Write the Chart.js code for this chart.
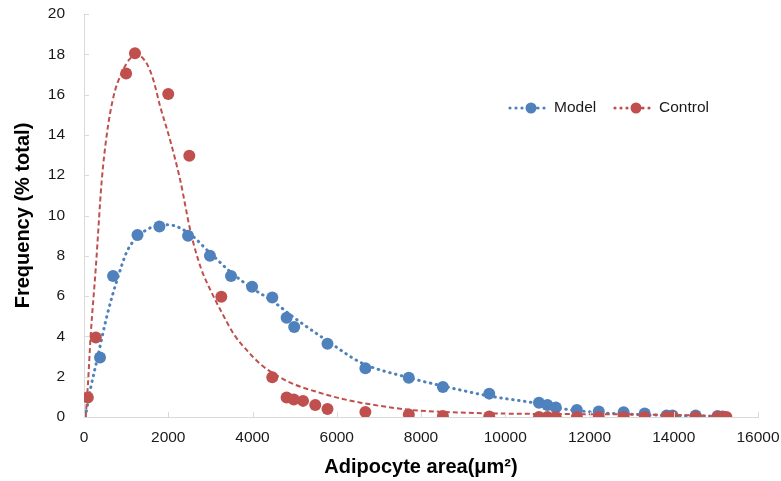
<!DOCTYPE html>
<html>
<head>
<meta charset="utf-8">
<script src="https://cdn.jsdelivr.net/npm/chart.js@4.4.1/dist/chart.umd.min.js"></script>
<style>
  html, body { margin: 0; padding: 0; background: #ffffff; }
  #wrap { width: 781px; height: 481px; position: relative; }
</style>
</head>
<body>
<div id="wrap"><canvas id="c" width="781" height="481"></canvas></div>
<script>
// ---- data ----
const modelX = [380, 690, 1270, 1790, 2470, 2990, 3490, 3990, 4470, 4810, 4990, 5780, 6680, 7710, 8520, 9620, 10800, 11000, 11200, 11700, 12220, 12810, 13310, 13830, 13970, 14520, 15040, 15160];
const modelY = [2.95, 7.0, 9.03, 9.45, 9.0, 8.0, 7.0, 6.46, 5.93, 4.93, 4.47, 3.64, 2.42, 1.95, 1.49, 1.16, 0.71, 0.6, 0.47, 0.35, 0.27, 0.23, 0.17, 0.08, 0.07, 0.07, 0.05, 0.03];

const controlX = [90, 280, 1000, 1210, 2000, 2500, 3260, 4470, 4810, 4980, 5200, 5490, 5780, 6680, 7710, 8520, 9620, 10800, 11000, 11200, 11700, 12220, 12810, 13310, 13830, 13970, 14520, 15040, 15120, 15250];
const controlY = [0.97, 3.95, 17.05, 18.05, 16.03, 12.97, 5.97, 1.97, 0.97, 0.87, 0.8, 0.6, 0.4, 0.25, 0.13, 0.05, 0.02, 0.0, 0.0, 0.0, 0.0, 0.0, 0.0, 0.0, 0.0, 0.0, 0.0, 0.0, 0.0, 0.0];

// trend curves
const modelTrendX = [30, 160, 317, 554, 800, 1028, 1343, 1650, 1990, 2464, 2986, 3493, 3990, 4472, 4986, 5775, 6576, 7711, 8517, 9621, 10660, 11460, 12300, 13500, 14660, 15250];
const modelTrendY = [0.0, 1.46, 2.9, 5.1, 6.9, 8.25, 9.07, 9.45, 9.54, 9.16, 8.16, 7.17, 6.39, 5.76, 4.93, 3.78, 2.70, 1.95, 1.54, 1.04, 0.71, 0.38, 0.21, 0.10, 0.05, 0.03];

const controlTrendX = [40, 90, 160, 280, 420, 540, 700, 900, 1100, 1280, 1500, 1650, 1810, 2050, 2290, 2530, 2770, 3010, 3250, 3560, 3880, 4190, 4590, 4990, 5460, 6010, 6570, 7760, 8580, 9690, 10900, 12000, 13000, 14000, 14800, 15250];
const controlTrendY = [0, 1.5, 4.1, 7.4, 11.7, 14.0, 15.9, 17.1, 17.8, 17.95, 17.5, 16.7, 15.4, 13.7, 11.7, 9.2, 7.42, 6.26, 5.27, 4.1, 3.28, 2.62, 2.04, 1.62, 1.29, 0.96, 0.71, 0.35, 0.25, 0.18, 0.15, 0.14, 0.13, 0.1, 0.06, 0.03];

const seriesNames = ['Model', 'Control'];
const xTitle = 'Adipocyte area(\u03bcm\u00b2)';
const yTitle = 'Frequency (% total)';

const BLUE = '#4F81BD';
const RED = '#C0504D';

const pts = (xs, ys) => xs.map((x, i) => ({ x: x, y: ys[i] }));

const inwardTicks = {
  id: 'inwardTicks',
  afterDraw(chart) {
    const ctx = chart.ctx;
    const xs = chart.scales.x, ys = chart.scales.y;
    ctx.save();
    ctx.strokeStyle = '#d9d9d9';
    ctx.lineWidth = 1;
    ctx.beginPath();
    for (let v = 0; v <= 16000; v += 2000) {
      const px = Math.round(xs.getPixelForValue(v)) + 0.5;
      ctx.moveTo(px, ys.bottom);
      ctx.lineTo(px, ys.bottom - 5);
    }
    for (let v = 0; v <= 20; v += 2) {
      const py = Math.round(ys.getPixelForValue(v)) + 0.5;
      ctx.moveTo(xs.left, py);
      ctx.lineTo(xs.left + 5, py);
    }
    ctx.stroke();
    ctx.restore();
  }
};

const customLegend = {
  id: 'customLegend',
  afterDraw(chart) {
    const ctx = chart.ctx;
    const items = [
      { name: seriesNames[0], color: BLUE, x0: 510 },
      { name: seriesNames[1], color: RED, x0: 615 }
    ];
    const y = 108;
    ctx.save();
    items.forEach(it => {
      ctx.fillStyle = it.color;
      [0, 6, 12, 28, 34].forEach(dx => {
        ctx.beginPath();
        ctx.arc(it.x0 + dx, y, 1.6, 0, Math.PI * 2);
        ctx.fill();
      });
      ctx.beginPath();
      ctx.arc(it.x0 + 21, y, 5.5, 0, Math.PI * 2);
      ctx.fill();
      ctx.strokeStyle = it.color;
      ctx.lineWidth = 2;
      ctx.beginPath();
      ctx.moveTo(it.x0 + 21, y);
      ctx.lineTo(it.x0 + 29, y);
      ctx.stroke();
      ctx.fillStyle = '#1a1a1a';
      ctx.font = '15.5px "Liberation Sans", Arial, sans-serif';
      ctx.textBaseline = 'middle';
      ctx.textAlign = 'left';
      ctx.fillText(it.name, it.x0 + 44, y);
    });
    ctx.restore();
  }
};

new Chart(document.getElementById('c'), {
  type: 'scatter',
  data: {
    datasets: [
      {
        label: seriesNames[1],
        data: pts(controlX, controlY),
        backgroundColor: RED,
        borderColor: RED,
        pointRadius: 6,
        pointBorderWidth: 0,
        showLine: false
      },
      {
        label: seriesNames[0],
        data: pts(modelX, modelY),
        backgroundColor: BLUE,
        borderColor: BLUE,
        pointRadius: 6,
        pointBorderWidth: 0,
        showLine: false
      },
      {
        label: 'Control trend',
        data: pts(controlTrendX, controlTrendY),
        showLine: true,
        borderColor: RED,
        borderWidth: 2,
        borderDash: [5, 3],
        pointRadius: 0,
        cubicInterpolationMode: 'monotone',
        fill: false
      },
      {
        label: 'Model trend',
        data: pts(modelTrendX, modelTrendY),
        showLine: true,
        borderColor: BLUE,
        borderWidth: 3,
        borderDash: [0.5, 5.5],
        borderCapStyle: 'round',
        pointRadius: 0,
        cubicInterpolationMode: 'monotone',
        fill: false
      }
    ]
  },
  options: {
    responsive: false,
    animation: false,
    events: [],
    layout: { padding: { top: 14, right: 23, left: 0, bottom: 0 } },
    plugins: {
      legend: { display: false },
      tooltip: { enabled: false }
    },
    scales: {
      x: {
        type: 'linear',
        min: 0, max: 16000,
        afterFit: s => { s.height = 64; s.paddingLeft = 0; s.paddingRight = 0; },
        grid: { display: false, drawTicks: false },
        border: { display: true, color: '#d9d9d9', width: 1 },
        ticks: {
          stepSize: 2000,
          padding: 11,
          color: '#1a1a1a',
          font: { family: '"Liberation Sans", Arial, sans-serif', size: 15.5 },
          callback: v => String(v)
        },
        title: {
          display: true,
          text: xTitle,
          color: '#000000',
          font: { family: '"Liberation Sans", Arial, sans-serif', size: 20, weight: 'bold' },
          padding: { top: 0, bottom: 2 }
        }
      },
      y: {
        type: 'linear',
        min: 0, max: 20,
        afterFit: s => { s.width = 84; s.paddingTop = 0; s.paddingBottom = 0; },
        grid: { display: false, drawTicks: false },
        border: { display: true, color: '#d9d9d9', width: 1 },
        ticks: {
          stepSize: 2,
          padding: 19,
          color: '#1a1a1a',
          font: { family: '"Liberation Sans", Arial, sans-serif', size: 15.5 }
        },
        title: {
          display: true,
          text: yTitle,
          color: '#000000',
          font: { family: '"Liberation Sans", Arial, sans-serif', size: 20, weight: 'bold' },
          padding: { top: 11, bottom: 0 }
        }
      }
    }
  },
  plugins: [inwardTicks, customLegend]
});
</script>
</body>
</html>
